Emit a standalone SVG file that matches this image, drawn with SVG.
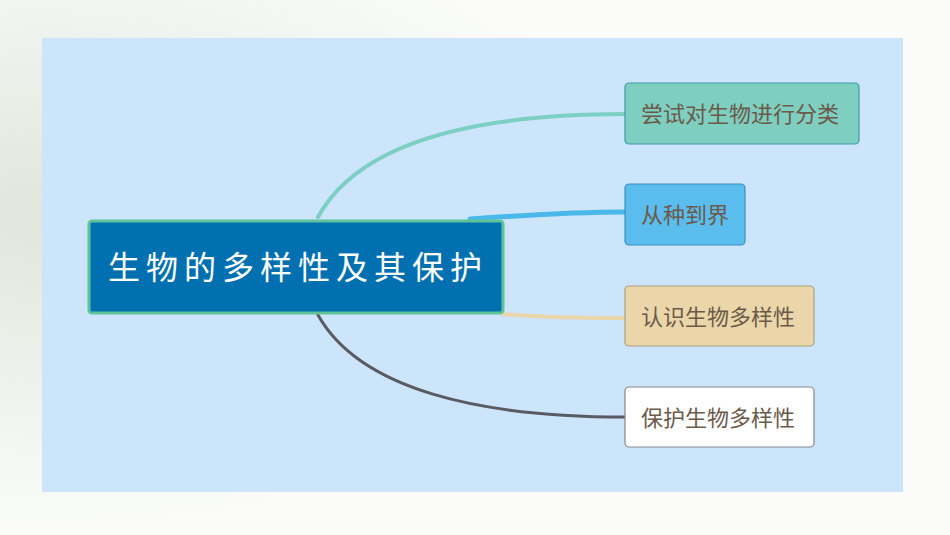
<svg xmlns="http://www.w3.org/2000/svg" width="950" height="535" viewBox="0 0 950 535">
<defs>
<radialGradient id="bg" cx="0.05" cy="0.4" r="0.6">
<stop offset="0" stop-color="#dfe6dc"/><stop offset="1" stop-color="#fbfcfa"/>
</radialGradient>
<style>
.n{stroke-width:1.2}
.t{font-family:"Noto Sans CJK SC",sans-serif;font-size:22px;fill:#6b5a4a}
.c{fill:none;stroke-linecap:round}
</style>
</defs>
<rect width="950" height="535" fill="url(#bg)"/>
<rect x="42" y="38" width="861" height="454" fill="#cce5fb"/>
<g id="connectors">
<path class="c" d="M318,217 C360,140 480,114 625,114" stroke="#7dcfc4" stroke-width="4"/>
<path class="c" d="M470,219 C540,214 580,212 625,212" stroke="#4ab8e8" stroke-width="5"/>
<path class="c" d="M503,314 C550,318 590,318 625,318" stroke="#ead6a8" stroke-width="4"/>
<path class="c" d="M318,315 C360,390 480,417 625,417" stroke="#5a5a62" stroke-width="3"/>
</g>
<g id="root">
<rect x="89" y="221" width="414" height="92" rx="3" fill="#0070b0" stroke="#5fc39a" stroke-width="3"/>
<text x="298" y="279" text-anchor="middle" font-family="Noto Sans CJK SC,sans-serif" font-size="32" letter-spacing="6" fill="#ffffff">生物的多样性及其保护</text>
</g>
<g id="n1"><rect class="n" x="625" y="83" width="234" height="61" rx="4" fill="#7fcfc0" stroke="#3a9ab0"/><text class="t" x="641" y="122">尝试对生物进行分类</text></g>
<g id="n2"><rect class="n" x="625" y="184" width="120" height="61" rx="4" fill="#5bbcee" stroke="#3a90c0"/><text class="t" x="641" y="223">从种到界</text></g>
<g id="n3"><rect class="n" x="625" y="286" width="189" height="60" rx="4" fill="#ead6a8" stroke="#a8a080"/><text class="t" x="641" y="325">认识生物多样性</text></g>
<g id="n4"><rect class="n" x="625" y="387" width="189" height="60" rx="4" fill="#ffffff" stroke="#888888"/><text class="t" x="641" y="426">保护生物多样性</text></g>
</svg>
